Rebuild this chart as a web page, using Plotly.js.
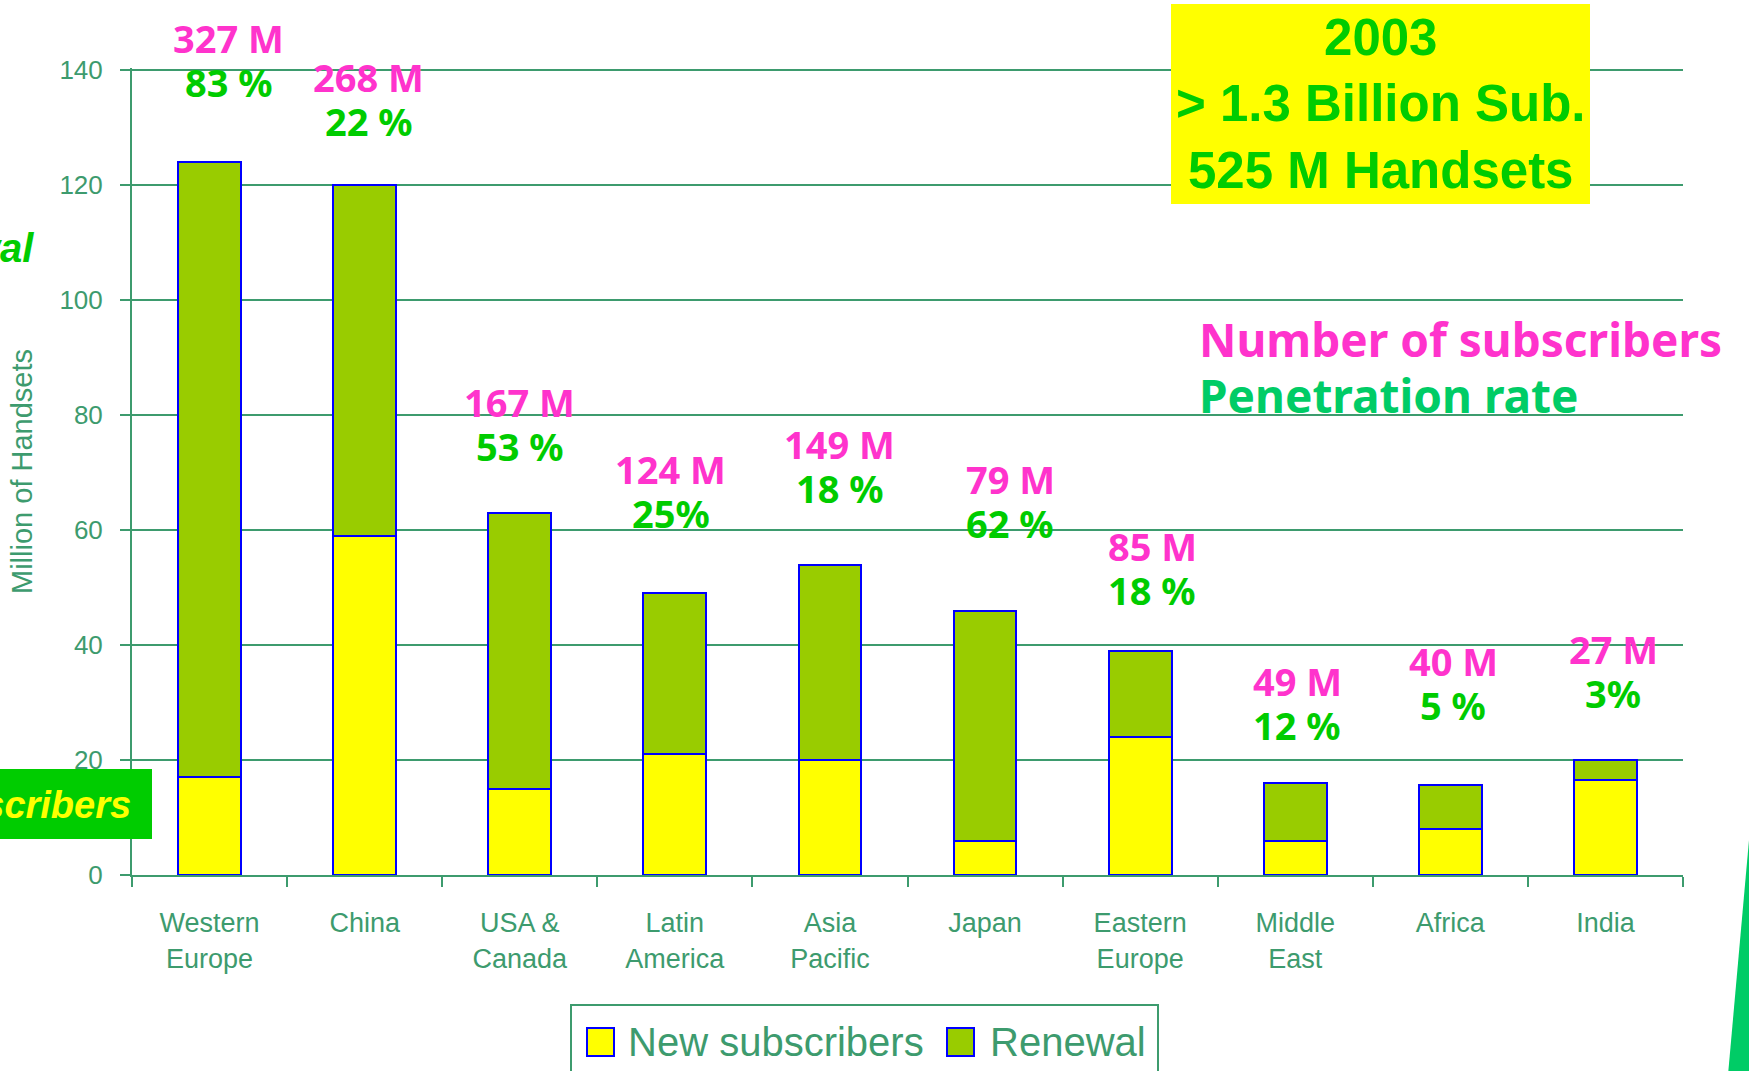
<!DOCTYPE html>
<html><head><meta charset="utf-8">
<script src="https://cdn.plot.ly/plotly-3.0.1.min.js"></script>
<style>html,body{margin:0;padding:0;background:#fff;}#chart{width:1749px;height:1071px;}</style>
</head><body><div id="chart"></div>
<script>
// ---- data ----
const categories = ['Western Europe','China','USA & Canada','Latin America','Asia Pacific','Japan','Eastern Europe','Middle East','Africa','India'];
const tickLabels = ['Western<br>Europe','China','USA &amp;<br>Canada','Latin<br>America','Asia<br>Pacific','Japan','Eastern<br>Europe','Middle<br>East','Africa','India'];
const newSubs = [17, 59, 15, 21, 20, 6, 24, 6, 8, 16.5];
const renewal = [107, 61, 48, 28, 34, 40, 15, 10, 7.7, 3.5];
const subscribers = ['327 M','268 M','167 M','124 M','149 M','79 M','85 M','49 M','40 M','27 M'];
const penetration = ['83 %','22 %','53 %','25%','18 %','62 %','18 %','12 %','5 %','3%'];
const seriesNames = ['New subscribers','Renewal'];
const boxLines = ['2003','&gt; 1.3 Billion Sub.','525 M Handsets'];

// ---- style / placement ----
const W = 1749, H = 1071;
const M = {l:132, r:66, t:68, b:196};
const pw = W - M.l - M.r, ph = H - M.t - M.b;
const px = v => (v - M.l) / pw;          // pixel -> paper x
const py = v => (H - M.b - v) / ph;      // pixel -> paper y
const labelDx = [19, 4, 0, -4, 10, 25, 12, 2, 3, 8];
const labelLift = [80, 64, 67, 80, 77, 88, 61, 58, 80, 67];
const G = '#3d9b6e';
const PINK = '#ff33cc', GREEN = '#00cc00', TEAL = '#00cc66';
const YEL = '#ffff00', OLIVE = '#99cc00', BLUE = '#0000ff';

const traces = [
  {type:'bar', name:seriesNames[0], x:categories, y:newSubs,
   marker:{color:YEL, line:{color:BLUE, width:2}}, hoverinfo:'x+y'},
  {type:'bar', name:seriesNames[1], x:categories, y:renewal,
   marker:{color:OLIVE, line:{color:BLUE, width:2}}, hoverinfo:'x+y'}
];

const labelFont = (c, s) => ({family:'Noto Sans, DejaVu Sans, sans-serif', size:s, color:c, weight:700});
const annotations = [];
categories.forEach((c, i) => {
  const top = newSubs[i] + renewal[i];
  annotations.push({x:c, y:top, xref:'x', yref:'y', text:subscribers[i], showarrow:false,
    xanchor:'center', yanchor:'middle', xshift:labelDx[i], yshift:labelLift[i] + 44, font:labelFont(PINK, 38)});
  annotations.push({x:c, y:top, xref:'x', yref:'y', text:penetration[i], showarrow:false,
    xanchor:'center', yanchor:'middle', xshift:labelDx[i], yshift:labelLift[i], font:labelFont(GREEN, 38)});
});
// info box text
annotations.push({xref:'paper', yref:'paper', x:px(1380.5), y:py(104), xanchor:'center', yanchor:'middle',
  text:boxLines.join('<br>'), showarrow:false,
  font:{family:'Liberation Sans, Arial, sans-serif', size:51, color:GREEN, weight:900}});
// key texts
annotations.push({xref:'paper', yref:'paper', x:px(1197), y:py(339), xanchor:'left', yanchor:'middle',
  text:'Number of subscribers', showarrow:false, font:labelFont(PINK, 46)});
annotations.push({xref:'paper', yref:'paper', x:px(1197), y:py(395), xanchor:'left', yanchor:'middle',
  text:'Penetration rate', showarrow:false, font:labelFont(TEAL, 46)});
// clipped side labels
annotations.push({xref:'paper', yref:'paper', x:px(36), y:py(248), xanchor:'right', yanchor:'middle',
  text:'<i>Renewal</i>', showarrow:false, font:{family:'Liberation Sans, Arial, sans-serif', size:40, color:GREEN, weight:700}});
annotations.push({xref:'paper', yref:'paper', x:px(133), y:py(805), xanchor:'right', yanchor:'middle',
  text:'<i>New subscribers</i>', showarrow:false, font:{family:'Liberation Sans, Arial, sans-serif', size:38, color:YEL, weight:700}});
// custom legend texts
annotations.push({xref:'paper', yref:'paper', x:px(626), y:py(1042), xanchor:'left', yanchor:'middle',
  text:seriesNames[0], showarrow:false, font:{family:'Liberation Sans, Arial, sans-serif', size:40, color:G}});
annotations.push({xref:'paper', yref:'paper', x:px(988), y:py(1042), xanchor:'left', yanchor:'middle',
  text:seriesNames[1], showarrow:false, font:{family:'Liberation Sans, Arial, sans-serif', size:40, color:G}});

const shapes = [
  {type:'rect', xref:'paper', yref:'paper', x0:px(1171), x1:px(1590), y0:py(204), y1:py(4),
   fillcolor:YEL, line:{width:0}, layer:'above'},
  {type:'rect', xref:'paper', yref:'paper', x0:px(-20), x1:px(152), y0:py(839), y1:py(769),
   fillcolor:GREEN, line:{width:0}, layer:'above'},
  {type:'path', xref:'paper', yref:'paper',
   path:`M ${px(1749)} ${py(840)} L ${px(1728)} ${py(1075)} L ${px(1770)} ${py(1075)} L ${px(1770)} ${py(840)} Z`,
   fillcolor:TEAL, line:{width:0}, layer:'above'},
  // legend frame and swatches
  {type:'rect', xref:'paper', yref:'paper', x0:px(571), x1:px(1158), y0:py(1100), y1:py(1005),
   fillcolor:'rgba(0,0,0,0)', line:{color:G, width:2}, layer:'above'},
  {type:'rect', xref:'paper', yref:'paper', x0:px(587), x1:px(614), y0:py(1056), y1:py(1028),
   fillcolor:YEL, line:{color:BLUE, width:2}, layer:'above'},
  {type:'rect', xref:'paper', yref:'paper', x0:px(947), x1:px(974), y0:py(1056), y1:py(1028),
   fillcolor:OLIVE, line:{color:BLUE, width:2}, layer:'above'}
];

const layout = {
  width:W, height:H, margin:M, autosize:false,
  paper_bgcolor:'#ffffff', plot_bgcolor:'#ffffff',
  barmode:'stack', bargap:0.595, showlegend:false,
  font:{family:'Liberation Sans, Arial, sans-serif', color:G},
  xaxis:{type:'category', tickmode:'array', tickvals:categories, ticktext:tickLabels,
    tickson:'boundaries', ticks:'outside', ticklen:10, tickwidth:2, tickcolor:G,
    showline:true, linecolor:G, linewidth:2, showgrid:false,
    tickfont:{family:'Liberation Sans, Arial, sans-serif', size:27, color:G}, ticklabelstandoff:23},
  yaxis:{range:[0,140.35], dtick:20, tick0:0, ticks:'outside', ticklen:10, tickwidth:2, tickcolor:G,
    showline:true, linecolor:G, linewidth:2, showgrid:true, gridcolor:G, gridwidth:2, zeroline:false,
    tickfont:{family:'Liberation Sans, Arial, sans-serif', size:26, color:G}, ticklabelstandoff:12,
    title:{text:'Million of Handsets', font:{family:'Liberation Sans, Arial, sans-serif', size:29, color:G}, standoff:18}},
  annotations:annotations, shapes:shapes
};

Plotly.newPlot('chart', traces, layout, {displayModeBar:false});
</script></body></html>
